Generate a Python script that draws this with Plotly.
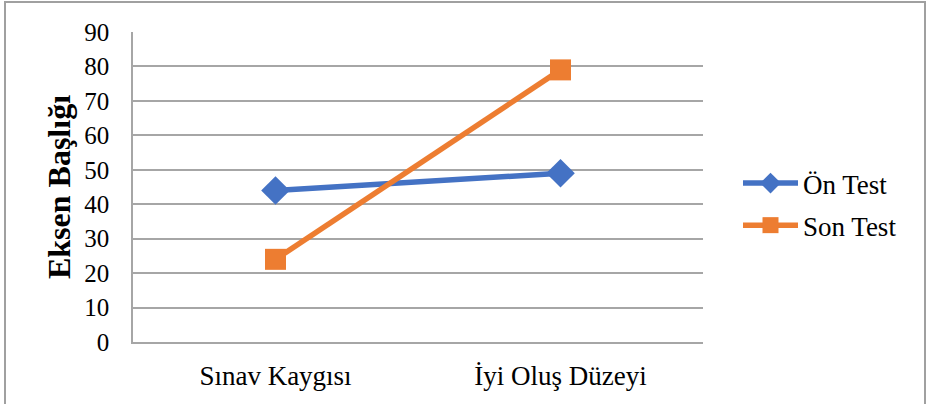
import plotly.graph_objects as go

categories = ["Sınav Kaygısı", "İyi Oluş Düzeyi"]
on_test = [44, 49]
son_test = [24, 79]
series_names = ["Ön Test", "Son Test"]
y_ticks = [0, 10, 20, 30, 40, 50, 60, 70, 80, 90]

W, H = 927, 404
ML, MR, MT, MB = 133, 224, 32, 62
PW, PH = W - ML - MR, H - MT - MB

FONT = "Liberation Serif"
BLUE = "#4472C4"
ORANGE = "#ED7D31"
GRID = "#A6A6A6"

fig = go.Figure()
fig.add_trace(go.Scatter(
    x=categories, y=on_test, name=series_names[0], mode="lines+markers",
    line=dict(color=BLUE, width=5.5),
    marker=dict(symbol="diamond", size=22, color=BLUE),
    legendgroup="a",
))
fig.add_trace(go.Scatter(
    x=categories, y=son_test, name=series_names[1], mode="lines+markers",
    line=dict(color=ORANGE, width=5.5),
    marker=dict(symbol="square", size=21, color=ORANGE),
    legendgroup="b",
))

def px_x(p):
    return (p - ML) / PW

def px_y(p):
    return (H - MB - p) / PH

fig.add_shape(type="rect", xref="paper", yref="paper",
              x0=px_x(5), x1=px_x(925), y0=px_y(420), y1=px_y(2),
              line=dict(color="#A0A0A0", width=2), fillcolor="rgba(0,0,0,0)",
              layer="below")

fig.update_layout(
    width=W, height=H,
    margin=dict(l=ML, r=MR, t=MT, b=MB, autoexpand=False),
    paper_bgcolor="white", plot_bgcolor="white",
    font=dict(family=FONT, size=24, color="black"),
    showlegend=True,
    legend=dict(x=px_x(738), y=px_y(159), xanchor="left", yanchor="top",
                font=dict(family=FONT, size=27, color="black"),
                itemwidth=55, tracegroupgap=4,
                bgcolor="rgba(0,0,0,0)"),
    xaxis=dict(type="category", range=[-0.5, 1.5], showgrid=False,
               showline=True, linecolor=GRID, linewidth=1.5,
               ticks="outside", ticklen=0, ticklabelstandoff=9,
               tickfont=dict(family=FONT, size=27, color="black")),
    yaxis=dict(range=[0, 90], tickvals=y_ticks, showgrid=True,
               gridcolor=GRID, gridwidth=1.5,
               showline=True, linecolor=GRID, linewidth=1.5,
               ticks="outside", ticklen=0, ticklabelstandoff=17,
               tickfont=dict(family=FONT, size=25, color="black"),
               zeroline=False,
               title=dict(text="<b>Eksen Başlığı</b>",
                          font=dict(family=FONT, size=32, color="black"),
                          standoff=4)),
)

fig.write_html(
    "out.html",
    config={"displayModeBar": False},
    post_script="document.body.style.margin='0';document.body.style.overflow='hidden';",
)
